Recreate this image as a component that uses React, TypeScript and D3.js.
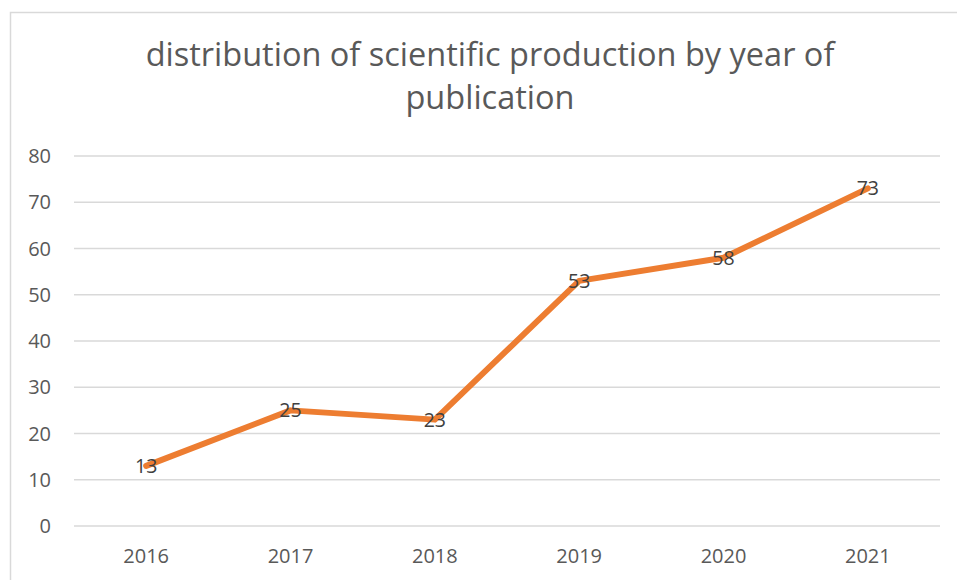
import React from "react";
import * as d3 from "d3";

const years = ["2016", "2017", "2018", "2019", "2020", "2021"];
const counts = [13, 25, 23, 53, 58, 73];
const yTicks = [0, 10, 20, 30, 40, 50, 60, 70, 80];
const titleLines = ["distribution of scientific production by year of", "publication"];

const W = 957;
const H = 580;
const FONT = "'Open Sans', 'Liberation Sans', sans-serif";

export default function App() {
  const x = d3.scaleBand<string>().domain(years).range([74, 940]).padding(0);
  const y = d3.scaleLinear().domain([0, 80]).range([526, 156]);
  const line = d3
    .line<number>()
    .x((_, i) => (x(years[i]) as number) + x.bandwidth() / 2)
    .y((d) => y(d));

  return (
    <svg
      width={W}
      height={H}
      style={{ position: "absolute", left: 0, top: 0, background: "#fff" }}
      fontFamily={FONT}
    >
      <rect x={10.5} y={12.5} width={W + 20} height={H + 20} fill="#fff" stroke="#d9d9d9" strokeWidth={1.5} />
      {titleLines.map((t, i) => (
        <text key={i} x={490} y={66 + i * 43} textAnchor="middle" fontSize={32.5} fill="#595959">
          {t}
        </text>
      ))}
      {yTicks.map((t) => (
        <g key={t}>
          <line x1={74} x2={940} y1={y(t)} y2={y(t)} stroke="#d9d9d9" strokeWidth={1.5} />
          <text x={51} y={y(t)} dy="0.36em" textAnchor="end" fontSize={20} fill="#595959">
            {t}
          </text>
        </g>
      ))}
      {years.map((yr) => (
        <text key={yr} x={(x(yr) as number) + x.bandwidth() / 2} y={563} textAnchor="middle" fontSize={20} fill="#595959">
          {yr}
        </text>
      ))}
      <path d={line(counts) || ""} fill="none" stroke="#ED7D31" strokeWidth={6} strokeLinejoin="round" strokeLinecap="round" />
      {counts.map((v, i) => (
        <text
          key={i}
          x={(x(years[i]) as number) + x.bandwidth() / 2}
          y={y(v)}
          dy="0.36em"
          textAnchor="middle"
          fontSize={19.5}
          fill="#404040"
        >
          {v}
        </text>
      ))}
    </svg>
  );
}
